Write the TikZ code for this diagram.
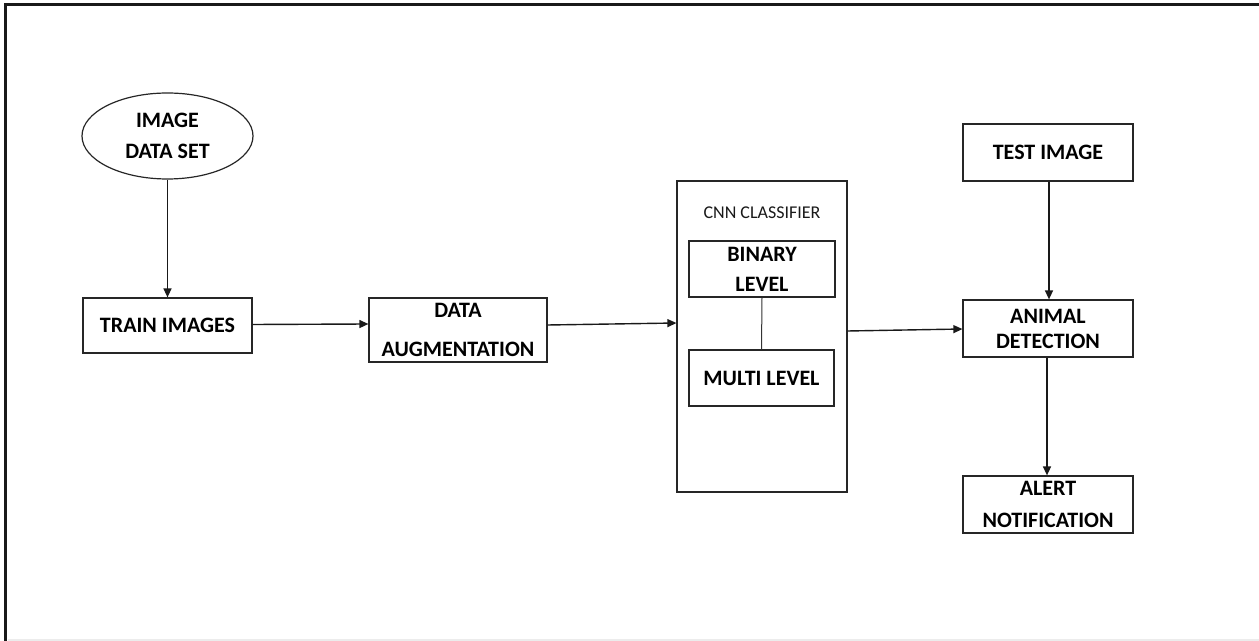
\documentclass[tikz,border=0pt]{standalone}
\usepackage{fontspec}
\setmainfont{Carlito}
\usetikzlibrary{shapes.geometric,arrows.meta}
\begin{document}
\begin{tikzpicture}[x=0.5pt,y=-0.5pt,
  lbl/.style={font=\bfseries\fontsize{11}{14.5}\selectfont, align=center, text=black},
  boxed/.style={lbl, draw=black!85, line width=0.6pt, inner sep=0pt},
  arr/.style={draw=black!90, line width=0.7pt, -{Triangle[length=4.5pt,width=4pt]}},
  link/.style={draw=black!80, line width=0.5pt}]
\useasboundingbox (0,0) rectangle (1259,641);
% frame
\draw[black!90, line width=1.75pt] (5.5,641) -- (5.5,4.5) -- (1259,4.5);
\draw[gray!15, line width=1pt] (8,640) -- (1259,640);
% nodes
\node[boxed, ellipse, minimum width=85.5pt, minimum height=43pt] (ids) at (167.5,136) {IMAGE\\[1pt]DATA SET};
\node[boxed, minimum width=84.5pt, minimum height=27.5pt] (train) at (167.5,325.5) {TRAIN IMAGES};
\node[boxed, minimum width=89pt, minimum height=32pt] (aug) at (458,330) {DATA\\[5pt]AUGMENTATION};
\node[draw=black!85, line width=0.6pt, minimum width=85pt, minimum height=155.5pt, inner sep=0pt] (cnn) at (762,336.5) {};
\node[font=\fontsize{9}{11}\selectfont, text=black!90] (cnnlbl) at (762,213) {CNN CLASSIFIER};
\node[boxed, minimum width=73pt, minimum height=28pt] (bin) at (762,269) {BINARY\\[0.5pt]LEVEL};
\node[boxed, minimum width=72.5pt, minimum height=28pt] (multi) at (761.5,378) {MULTI LEVEL};
\node[boxed, minimum width=85pt, minimum height=28.5pt] (test) at (1048,152.5) {TEST IMAGE};
\node[boxed, minimum width=85pt, minimum height=28.5pt] (animal) at (1048,328.5) {ANIMAL\\[-2pt]DETECTION};
\node[boxed, minimum width=85pt, minimum height=28.5pt] (alert) at (1048,504.5) {ALERT\\[1.5pt]NOTIFICATION};
% connectors
\draw[arr] (ids.south) -- (train.north);
\draw[arr] ([yshift=0.5pt]train.east) -- ([yshift=3pt]aug.west);
\draw[arr] ([yshift=2.5pt]aug.east) -- ([yshift=6.75pt]cnn.west);
\draw[link] (bin.south) -- (multi.north);
\draw[arr] ([yshift=2.75pt]cnn.east) -- ([yshift=-0.25pt]animal.west);
\draw[arr] ([xshift=0.5pt]test.south) -- ([xshift=0.5pt]animal.north);
\draw[arr] ([xshift=-0.5pt]animal.south) -- ([xshift=-0.5pt]alert.north);
\end{tikzpicture}
\end{document}
